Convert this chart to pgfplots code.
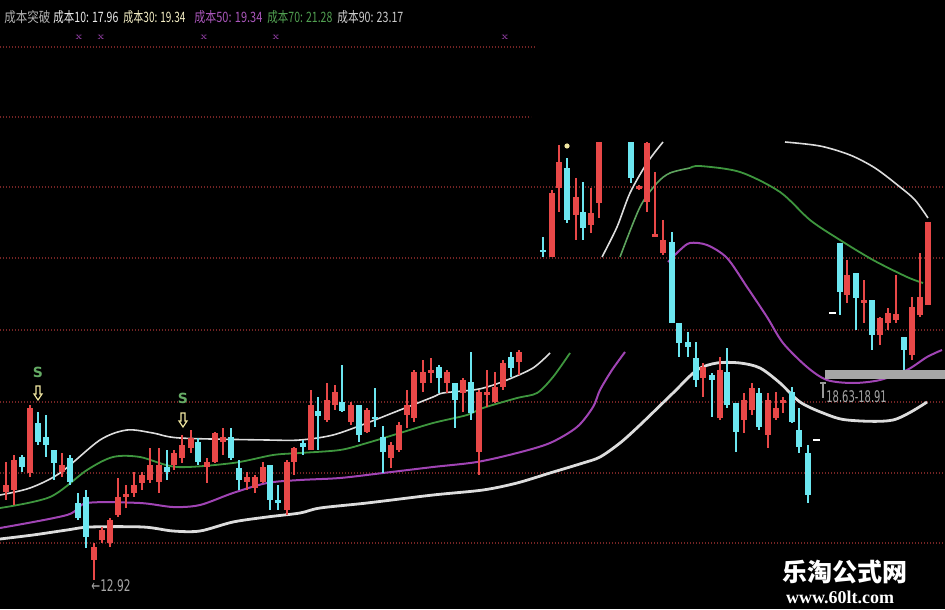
\documentclass[border=0pt]{standalone}
\usepackage{fontspec}
\usepackage{graphicx}
\usepackage{pgfplots}
\usepackage{pgfplotstable}
\pgfplotsset{compat=1.18}
\newfontfamily\cjk{Noto Sans CJK SC}
\newfontfamily\dejavu{DejaVu Sans}
\newfontfamily\lserif{Liberation Serif}
\definecolor{cred}{HTML}{E84848}
\definecolor{ccyan}{HTML}{6CE6F0}
\definecolor{cwhite}{HTML}{DCDCDC}
\definecolor{cgreen}{HTML}{3E963E}
\definecolor{cmag}{HTML}{A044B4}
\definecolor{cgrid}{HTML}{742424}
\definecolor{cyel}{HTML}{F0E6A0}

% candles in picture coordinates (x, body top, body bottom, wick top, wick bottom)
\pgfplotstableread{
x bt bb wt wb
6 485 492 462 500
14 460 490 455 505
30 408 473 405 477
62 465 472 453 477
94 547 560 543 580
102 530 540 527 543
110 520 543 518 547
118 497 515 478 517
126 494 497 485 508
134 485 493 472 497
142 475 483 472 490
150 465 480 448 483
159 465 482 448 493
174 453 465 450 470
182 445 458 435 463
191 438 448 430 453
207 462 467 458 483
215 433 462 432 463
223 437 442 428 455
247 477 482 472 490
255 477 488 475 493
263 467 482 462 483
287 462 510 460 515
294 448 462 447 475
311 405 450 390 450
327 400 420 383 422
335 392 405 385 410
351 405 422 402 425
367 410 432 408 433
391 445 458 442 468
399 425 450 422 452
407 405 415 390 428
414 372 418 370 422
423 372 383 360 392
431 370 373 358 383
447 372 383 370 393
463 380 393 378 412
479 392 452 390 475
487 392 395 370 407
495 387 402 372 403
503 363 387 360 390
519 352 362 350 375
552 193 257 190 257
559 162 188 145 212
576 197 215 178 240
591 213 225 188 233
599 142 203 142 218
639 186 189 185 190
647 143 202 142 212
655 234 237 172 237
663 240 253 220 255
703 367 378 363 397
720 370 418 357 420
744 400 420 393 433
752 388 410 383 415
768 400 435 393 448
776 408 418 392 420
783 400 403 397 413
847 275 295 260 303
864 300 303 280 323
880 318 335 317 345
888 313 323 308 330
896 314 320 275 323
912 307 355 297 360
920 297 315 253 317
928 222 305 222 305
}\redtab

\pgfplotstableread{
x bt bb wt wb
22 457 467 455 472
38 423 442 412 445
46 437 445 415 457
54 450 463 450 480
70 458 482 455 485
78 503 518 493 520
86 497 537 490 548
167 467 472 450 480
198 442 462 438 465
231 437 458 428 460
239 468 480 460 490
270 465 500 465 510
278 500 503 485 510
303 443 447 440 455
318 411 416 397 450
342 402 411 365 412
359 405 435 405 442
375 417 419 388 427
383 437 452 426 473
439 367 378 365 393
455 383 400 383 428
471 382 413 352 420
511 357 368 352 377
543 250 252 237 257
567 168 220 158 223
583 212 228 182 240
631 142 178 142 183
672 242 323 232 323
679 323 343 323 357
688 342 347 332 357
696 358 380 342 387
712 375 380 373 417
727 372 405 348 408
736 403 432 403 452
759 393 427 388 430
792 392 422 387 423
799 430 447 408 453
808 453 495 445 503
840 243 292 243 315
856 273 298 273 330
872 300 335 300 350
904 337 350 337 370
}\cyantab

\newcommand{\candles}[2]{%
\addplot[#2, line width=0.75pt, forget plot, mark=none,
  quiver={u=0, v={\thisrow{wb}-\thisrow{wt}}}]
  table[x=x, y=wt] {#1};
\addplot[#2, line width=3.4pt, forget plot, mark=none,
  quiver={u=0, v={\thisrow{bb}-\thisrow{bt}}}]
  table[x=x, y=bt] {#1};
}

\newcommand{\darrow}[2]{%
\draw[cyel, line width=0.6pt, fill=black]
 (axis cs:{#1-2},{#2-7}) -- (axis cs:{#1+2},{#2-7}) -- (axis cs:{#1+2},{#2+1}) --
 (axis cs:{#1+4},{#2+1}) -- (axis cs:{#1},{#2+7}) -- (axis cs:{#1-4},{#2+1}) --
 (axis cs:{#1-2},{#2+1}) -- cycle;}

\begin{document}
\begin{tikzpicture}
\fill[black] (0,0) rectangle (472.5pt,304.5pt);
\begin{axis}[
  scale only axis, width=472.5pt, height=304.5pt,
  xmin=0, xmax=945, ymin=0, ymax=609, y dir=reverse,
  hide axis, clip=true]

% grid lines
\foreach \gy in {187,258,330,402,473,543}{
  \edef\tmp{\noexpand\draw[cgrid, line width=0.7pt, dash pattern=on 0.6pt off 0.9pt] (axis cs:0,\gy) -- (axis cs:945,\gy);}\tmp
}
\draw[cgrid, line width=0.7pt, dash pattern=on 0.6pt off 0.9pt] (axis cs:0,117) -- (axis cs:531,117);
\draw[cgrid, line width=0.7pt, dash pattern=on 0.6pt off 0.9pt] (axis cs:0,47) -- (axis cs:535,47);

% cost lines, left part
\addplot[cwhite, line width=0.8pt, smooth] coordinates {(0,495)(30,488)(60,473)(100,440)(127,430)(153,433)(180,438)(267,440)(300,440)(333,435)(367,423)(400,410)(433,397)(443,393)(473,390)(487,387)(507,380)(533,368)(550,353)};
\addplot[cgreen, line width=0.9pt, smooth] coordinates {(0,508)(50,497)(87,470)(113,457)(140,457)(177,467)(233,463)(273,455)(300,453)(340,450)(367,443)(400,433)(433,423)(467,415)(483,408)(517,398)(537,393)(553,377)(570,353)};
\addplot[cmag, line width=1pt, smooth] coordinates {(0,528)(67,515)(87,503)(140,503)(173,507)(200,505)(233,493)(267,483)(300,480)(340,478)(383,473)(433,467)(477,462)(517,453)(550,443)(577,427)(593,407)(600,390)(612,370)(625,352)};
\addplot[cwhite, line width=1.4pt, smooth] coordinates {(0,539)(33,535)(67,530)(90,527)(143,527)(173,531)(200,531)(233,522)(267,517)(300,513)(320,508)(367,503)(433,495)(483,490)(517,483)(550,473)(583,463)(600,457)(620,443)(640,425)(673,393)(697,370)(717,363)(740,363)(760,368)(780,383)(800,402)(823,413)(847,420)(893,420)(927,402)};

% cost lines, right part
\addplot[cwhite, line width=0.8pt, smooth] coordinates {(602,257)(617,227)(630,193)(647,163)(663,142)};
\addplot[cwhite, line width=0.8pt, smooth] coordinates {(785,142)(820,146)(850,155)(875,168)(900,187)(915,200)(928,218)};
\addplot[cgreen!80!cwhite, line width=0.8pt, smooth] coordinates {(620,257)(640,207)(657,183)(670,173)(690,168)};
\addplot[cgreen, line width=0.9pt, smooth] coordinates {(690,168)(700,166)(740,172)(780,192)(810,220)(840,240)(873,260)(907,277)(923,283)};
\addplot[cmag, line width=1pt, smooth] coordinates {(668,262)(680,250)(690,243)(707,245)(727,258)(747,287)(767,317)(783,343)(807,367)(827,380)(853,383)(880,380)(907,370)(927,357)(942,350)};

% candles
\candles{\redtab}{cred}
\candles{\cyantab}{ccyan}

% support band
\fill[gray!70] (axis cs:825,370) rectangle (axis cs:945,379);
\draw[gray!80, line width=0.6pt] (axis cs:823,383) -- (axis cs:823,398);
\draw[gray!80, line width=0.6pt] (axis cs:820,383) -- (axis cs:826,383);
\node[anchor=west, inner sep=0pt, text=gray!70] at (axis cs:826,397) {\scalebox{0.62}[1]{\dejavu\fontsize{8}{9}\selectfont 18.63-18.91}};
\node[anchor=west, inner sep=0pt, text=gray!70] at (axis cs:91,586) {\scalebox{0.66}[1]{\dejavu\fontsize{8}{9}\selectfont ←12.92}};

% small dashes
\draw[white, line width=0.8pt] (axis cs:813,440) -- (axis cs:820,440);
\draw[white, line width=0.8pt] (axis cs:829,313) -- (axis cs:836,313);
\fill[cyel] (axis cs:567,146) circle[radius=1.3pt];

% S signals
\node[text=cgreen!80!white, inner sep=0pt, font=\dejavu\bfseries\fontsize{7}{8}\selectfont] at (axis cs:38,372) {S};
\node[text=cgreen!80!white, inner sep=0pt, font=\dejavu\bfseries\fontsize{7}{8}\selectfont] at (axis cs:183,398) {S};
\darrow{38}{393}
\darrow{183}{420}

% header
\node[anchor=west, inner sep=0pt, text=gray!60!white] at (axis cs:4,17) {\resizebox{23pt}{6pt}{\cjk 成本突破}};
\node[anchor=west, inner sep=0pt, text=white!92!black] at (axis cs:53,17) {\resizebox{32.5pt}{6pt}{\cjk 成本10: 17.96}};
\node[anchor=west, inner sep=0pt, text=cyel!60!white] at (axis cs:123,17) {\resizebox{31pt}{6pt}{\cjk 成本30: 19.34}};
\node[anchor=west, inner sep=0pt, text=cmag!90!white] at (axis cs:194,17) {\resizebox{34pt}{6pt}{\cjk 成本50: 19.34}};
\node[anchor=west, inner sep=0pt, text=cgreen!90!white] at (axis cs:267,17) {\resizebox{32.5pt}{6pt}{\cjk 成本70: 21.28}};
\node[anchor=west, inner sep=0pt, text=gray!40!white] at (axis cs:337,17) {\resizebox{33pt}{6pt}{\cjk 成本90: 23.17}};
\foreach \mx in {79,101,204,276,505}{
  \edef\tmp{\noexpand\node[text=cmag, inner sep=0pt, font=\noexpand\fontsize{5}{6}\noexpand\selectfont] at (axis cs:\mx,37) {x};}\tmp
}

% watermark
\node[text=white, inner sep=0pt] at (axis cs:845,572) {\cjk\bfseries\fontsize{12.5}{14}\selectfont 乐淘公式网};
\node[text=white, inner sep=0pt] at (axis cs:840,597) {\lserif\bfseries\fontsize{9}{10}\selectfont www.60lt.com};
\end{axis}
\end{tikzpicture}
\end{document}
